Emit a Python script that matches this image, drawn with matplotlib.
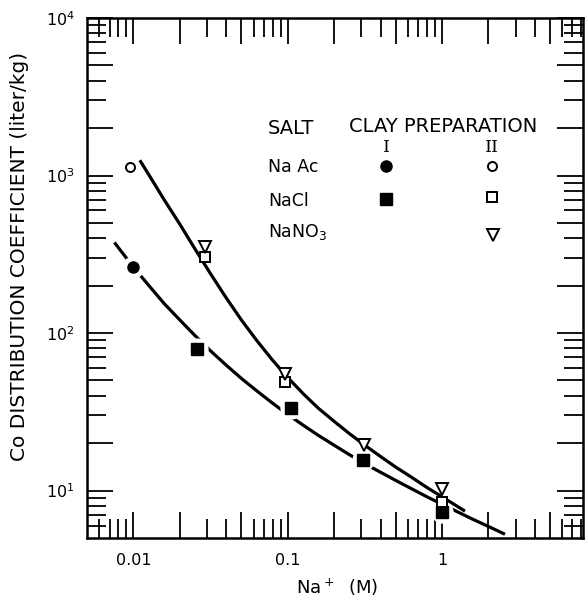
import matplotlib
matplotlib.use('Agg')
import matplotlib.pyplot as plt
from matplotlib.ticker import FixedLocator, FuncFormatter

# ---- data ----
# measured points
naac_I_x = [0.0099]
naac_I_y = [263]
naac_II_x = [0.0095]
naac_II_y = [1135]
nacl_I_x = [0.0258, 0.105, 0.307, 1.0]
nacl_I_y = [78.7, 33.6, 15.7, 7.28]
nacl_II_x = [0.0289, 0.0964, 1.0]
nacl_II_y = [303, 49, 8.42]
nano3_II_x = [0.0289, 0.0964, 0.31, 1.0]
nano3_II_y = [351, 55.3, 19.4, 10.25]

# drawn curves
upper_x = [0.0110, 0.0126, 0.0158, 0.0200, 0.0251, 0.0316, 0.0398, 0.0501, 0.0631,
           0.0794, 0.100, 0.126, 0.158, 0.200, 0.251, 0.316, 0.398, 0.501, 0.631,
           0.794, 1.0, 1.26, 1.41]
upper_y = [1250, 1009, 703, 490, 341, 238, 168, 121, 89.5,
           67.6, 52.2, 41.2, 33.3, 27.5, 23.0, 19.4, 16.5, 14.1, 12.2,
           10.5, 9.12, 7.93, 7.40]
lower_x = [0.00753, 0.00794, 0.0100, 0.0126, 0.0158, 0.0200, 0.0251, 0.0316, 0.0398,
           0.0501, 0.0631, 0.0794, 0.100, 0.126, 0.158, 0.200, 0.251, 0.316, 0.398,
           0.501, 0.631, 0.794, 1.0, 1.26, 1.58, 2.0, 2.56]
lower_y = [376, 351, 262, 200, 154, 121, 96.2, 77.1, 62.7,
           51.5, 42.9, 36.0, 30.4, 26.0, 22.4, 19.4, 16.9, 14.8, 13.1,
           11.6, 10.3, 9.16, 8.18, 7.33, 6.58, 5.92, 5.28]

x_major = [0.01, 0.02, 0.05, 0.1, 0.2, 0.5, 1, 2, 5]
x_minor = [0.006, 0.007, 0.008, 0.009, 0.03, 0.04, 0.06, 0.07, 0.08, 0.09,
           0.3, 0.4, 0.6, 0.7, 0.8, 0.9, 3, 4, 6, 7, 8]
x_labels = {0.01: '0.01', 0.1: '0.1', 1: '1'}
y_major = [10, 20, 50, 100, 200, 500, 1000, 2000, 5000, 10000]
y_minor = [6, 7, 8, 9, 30, 40, 60, 70, 80, 90, 300, 400, 600, 700, 800, 900,
           3000, 4000, 6000, 7000, 8000, 9000]
y_labels = {10: '$10^{1}$', 100: '$10^{2}$', 1000: '$10^{3}$', 10000: '$10^{4}$'}

plt.rcParams['font.family'] = ['DejaVu Sans']

fig = plt.figure(figsize=(5.86, 5.97), dpi=100)
ax = fig.add_axes([87/586, 1 - 538/597, 496/586, 520/597])
ax.set_xscale('log')
ax.set_yscale('log')
ax.set_xlim(0.005, 8.2)
ax.set_ylim(5, 1e4)

lw = 2.3
ax.plot(upper_x, upper_y, color='black', lw=lw, solid_capstyle='butt', zorder=2)
ax.plot(lower_x, lower_y, color='black', lw=lw, solid_capstyle='butt', zorder=2)

# white halos around filled markers (gaps in the line)
ax.plot(naac_I_x + nacl_I_x, naac_I_y + nacl_I_y, 'o', ms=15, color='white', zorder=3)

ax.plot(naac_I_x, naac_I_y, 'o', ms=8, color='black', zorder=4)
ax.plot(nacl_I_x, nacl_I_y, 's', ms=8, color='black', zorder=4)
ax.plot(naac_II_x, naac_II_y, 'o', ms=6.5, mfc='white', mec='black', mew=1.4, zorder=5)
ax.plot(nacl_II_x, nacl_II_y, 's', ms=6.5, mfc='white', mec='black', mew=1.4, zorder=5)
ax.plot(nano3_II_x, nano3_II_y, 'v', ms=8, mfc='white', mec='black', mew=1.4, zorder=5)

# ticks
ax.xaxis.set_major_locator(FixedLocator(x_major))
ax.xaxis.set_minor_locator(FixedLocator(x_minor))
ax.xaxis.set_major_formatter(FuncFormatter(lambda v, p: next((s for k, s in x_labels.items() if abs(v - k) < 1e-9), '')))
ax.xaxis.set_minor_formatter(FuncFormatter(lambda v, p: ''))
ax.yaxis.set_major_locator(FixedLocator(y_major))
ax.yaxis.set_minor_locator(FixedLocator(y_minor))
ax.yaxis.set_major_formatter(FuncFormatter(lambda v, p: next((s for k, s in y_labels.items() if abs(v - k) < 1e-6), '')))
ax.yaxis.set_minor_formatter(FuncFormatter(lambda v, p: ''))

ax.tick_params(which='major', direction='in', length=19, width=1.3, top=True, right=True,
               labelsize=11.5)
ax.tick_params(which='minor', direction='in', length=13.5, width=1.3, top=True, right=True)
ax.tick_params(axis='x', which='major', pad=11)
ax.tick_params(axis='y', which='major', pad=9)
for s in ax.spines.values():
    s.set_linewidth(1.8)

# legend-like annotation
T = ax.transAxes
fs = 12.5
ax.text(0.365, 0.777, 'SALT', transform=T, fontsize=14, va='baseline', ha='left')
ax.text(0.528, 0.780, 'CLAY PREPARATION', transform=T, fontsize=14, va='baseline', ha='left')
ax.text(0.603, 0.743, 'I', transform=T, fontsize=12.5, va='baseline', ha='center', family='DejaVu Serif')
ax.text(0.8165, 0.743, 'II', transform=T, fontsize=12.5, va='baseline', ha='center', family='DejaVu Serif')
ax.text(0.365, 0.704, 'Na Ac', transform=T, fontsize=fs, va='baseline', ha='left')
ax.text(0.365, 0.639, 'NaCl', transform=T, fontsize=fs, va='baseline', ha='left')
ax.text(0.365, 0.578, 'NaNO$_3$', transform=T, fontsize=fs, va='baseline', ha='left')

ax.plot([0.603], [0.715], 'o', ms=8, color='black', transform=T, clip_on=False)
ax.plot([0.8165], [0.715], 'o', ms=6.5, mfc='white', mec='black', mew=1.4, transform=T, clip_on=False)
ax.plot([0.603], [0.652], 's', ms=8, color='black', transform=T, clip_on=False)
ax.plot([0.8165], [0.655], 's', ms=6.5, mfc='white', mec='black', mew=1.4, transform=T, clip_on=False)
ax.plot([0.8195], [0.583], 'v', ms=8, mfc='white', mec='black', mew=1.4, transform=T, clip_on=False)

fig.text(20/586, 1 - 256/597, 'Co DISTRIBUTION COEFFICIENT (liter/kg)', rotation=90,
         fontsize=14.5, ha='center', va='center')
fig.text(337/586, 1 - 587/597, 'Na$^+$  (M)', fontsize=13, ha='center', va='center')

fig.savefig('out.png', dpi=100)
